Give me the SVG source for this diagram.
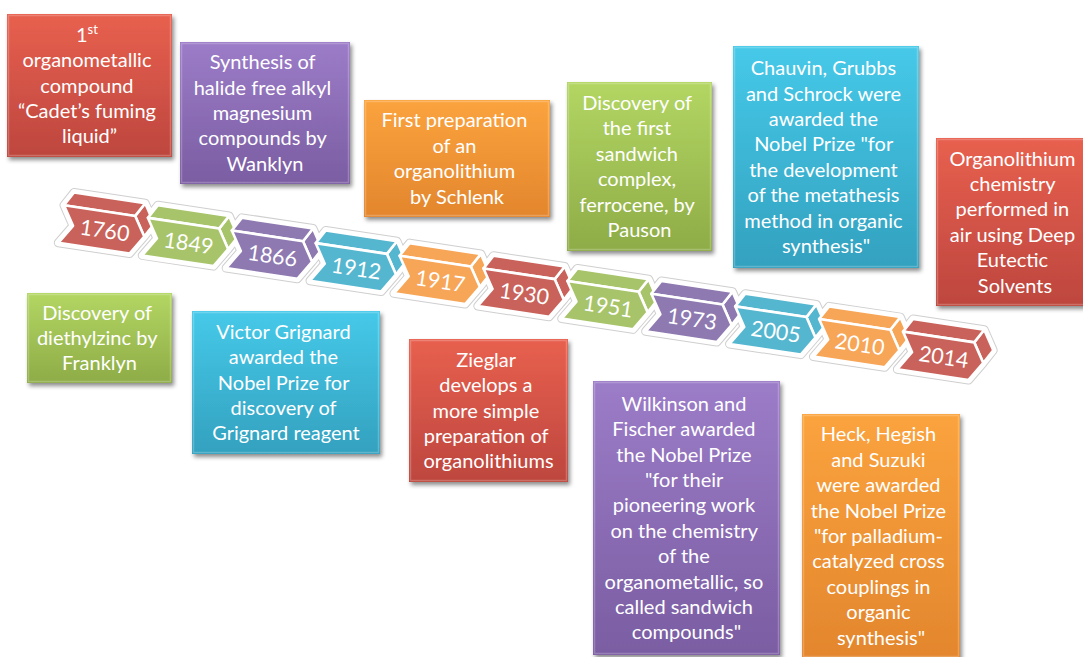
<svg xmlns="http://www.w3.org/2000/svg" width="1083" height="657" viewBox="0 0 1083 657">
  <defs>
    <linearGradient id="gRed" x1="0" y1="0" x2="0" y2="1">
      <stop offset="0" stop-color="#E8604F"/>
      <stop offset="1" stop-color="#BD463E"/>
    </linearGradient>
    <linearGradient id="gPurple" x1="0" y1="0" x2="0" y2="1">
      <stop offset="0" stop-color="#9C7CC8"/>
      <stop offset="1" stop-color="#7A5DA2"/>
    </linearGradient>
    <linearGradient id="gOrange" x1="0" y1="0" x2="0" y2="1">
      <stop offset="0" stop-color="#FBA33E"/>
      <stop offset="1" stop-color="#E3862D"/>
    </linearGradient>
    <linearGradient id="gGreen" x1="0" y1="0" x2="0" y2="1">
      <stop offset="0" stop-color="#B3D663"/>
      <stop offset="1" stop-color="#8EAC47"/>
    </linearGradient>
    <linearGradient id="gCyan" x1="0" y1="0" x2="0" y2="1">
      <stop offset="0" stop-color="#46C9E9"/>
      <stop offset="1" stop-color="#33A1BF"/>
    </linearGradient>
    <filter id="shadow" x="-10%" y="-10%" width="125%" height="125%">
      <feDropShadow dx="2" dy="3" stdDeviation="2.2" flood-color="#000" flood-opacity="0.45"/>
    </filter>
    <!-- one chevron segment of the timeline, drawn in the strip's local frame -->
    <path id="halo" d="M0,0 L8,-14 L80,-14 L92,5 L84,19 L72,38 L0,38 L12,19 Z"/>
    <path id="top" d="M0,0 L72,0 L80,-14 L8,-14 Z"/>
    <path id="facet" d="M72,0 L80,-14 L92,5 L84,19 Z"/>
    <path id="front" d="M0,0 L72,0 L84,19 L72,38 L0,38 L12,19 Z"/>
  </defs>
  <style>
    .box { filter: url(#shadow); }
    .edge { fill: none; stroke: rgba(255,255,255,0.22); stroke-width: 1.5; }
    .txt { font-family: Lato, "Liberation Sans", sans-serif; font-size: 20px; fill: #fff; text-anchor: middle; }
    .yr { font-family: Lato, "Liberation Sans", sans-serif; font-size: 21.5px; fill: #fff; text-anchor: middle; }
    .haloOut { fill: #fff; stroke: #cfcfcf; stroke-width: 9; stroke-linejoin: round; }
    .haloIn { fill: #fff; stroke: #fff; stroke-width: 7; stroke-linejoin: round; }
    .face { stroke: #fff; stroke-width: 2.6; stroke-linejoin: round; }
    .cRed { fill: #C9625A; }
    .cGreen { fill: #A7C46A; }
    .cPurple { fill: #8E79B1; }
    .cCyan { fill: #55B6CF; }
    .cOrange { fill: #F7A557; }
  </style>
  <rect width="1083" height="657" fill="#fff"/>

  <!-- timeline strip -->
  <g id="connectors" transform="translate(64,205.2) rotate(8.57)">
    <g id="halo-out">
      <use href="#halo" class="haloOut" x="0"/>
      <use href="#halo" class="haloOut" x="84.85"/>
      <use href="#halo" class="haloOut" x="169.7"/>
      <use href="#halo" class="haloOut" x="254.55"/>
      <use href="#halo" class="haloOut" x="339.4"/>
      <use href="#halo" class="haloOut" x="424.25"/>
      <use href="#halo" class="haloOut" x="509.1"/>
      <use href="#halo" class="haloOut" x="593.95"/>
      <use href="#halo" class="haloOut" x="678.8"/>
      <use href="#halo" class="haloOut" x="763.65"/>
      <use href="#halo" class="haloOut" x="848.5"/>
    </g>
    <g id="halo-in">
      <use href="#halo" class="haloIn" x="0"/>
      <use href="#halo" class="haloIn" x="84.85"/>
      <use href="#halo" class="haloIn" x="169.7"/>
      <use href="#halo" class="haloIn" x="254.55"/>
      <use href="#halo" class="haloIn" x="339.4"/>
      <use href="#halo" class="haloIn" x="424.25"/>
      <use href="#halo" class="haloIn" x="509.1"/>
      <use href="#halo" class="haloIn" x="593.95"/>
      <use href="#halo" class="haloIn" x="678.8"/>
      <use href="#halo" class="haloIn" x="763.65"/>
      <use href="#halo" class="haloIn" x="848.5"/>
    </g>
    <g id="y1760" class="cRed">
      <use href="#facet" class="face"/><use href="#top" class="face"/><use href="#front" class="face"/>
      <text class="yr" x="44" y="26.5">1760</text>
    </g>
    <g id="y1849" class="cGreen" transform="translate(84.85,0)">
      <use href="#facet" class="face"/><use href="#top" class="face"/><use href="#front" class="face"/>
      <text class="yr" x="44" y="26.5">1849</text>
    </g>
    <g id="y1866" class="cPurple" transform="translate(169.7,0)">
      <use href="#facet" class="face"/><use href="#top" class="face"/><use href="#front" class="face"/>
      <text class="yr" x="44" y="26.5">1866</text>
    </g>
    <g id="y1912" class="cCyan" transform="translate(254.55,0)">
      <use href="#facet" class="face"/><use href="#top" class="face"/><use href="#front" class="face"/>
      <text class="yr" x="44" y="26.5">1912</text>
    </g>
    <g id="y1917" class="cOrange" transform="translate(339.4,0)">
      <use href="#facet" class="face"/><use href="#top" class="face"/><use href="#front" class="face"/>
      <text class="yr" x="44" y="26.5">1917</text>
    </g>
    <g id="y1930" class="cRed" transform="translate(424.25,0)">
      <use href="#facet" class="face"/><use href="#top" class="face"/><use href="#front" class="face"/>
      <text class="yr" x="44" y="26.5">1930</text>
    </g>
    <g id="y1951" class="cGreen" transform="translate(509.1,0)">
      <use href="#facet" class="face"/><use href="#top" class="face"/><use href="#front" class="face"/>
      <text class="yr" x="44" y="26.5">1951</text>
    </g>
    <g id="y1973" class="cPurple" transform="translate(593.95,0)">
      <use href="#facet" class="face"/><use href="#top" class="face"/><use href="#front" class="face"/>
      <text class="yr" x="44" y="26.5">1973</text>
    </g>
    <g id="y2005" class="cCyan" transform="translate(678.8,0)">
      <use href="#facet" class="face"/><use href="#top" class="face"/><use href="#front" class="face"/>
      <text class="yr" x="44" y="26.5">2005</text>
    </g>
    <g id="y2010" class="cOrange" transform="translate(763.65,0)">
      <use href="#facet" class="face"/><use href="#top" class="face"/><use href="#front" class="face"/>
      <text class="yr" x="44" y="26.5">2010</text>
    </g>
    <g id="y2014" class="cRed" transform="translate(848.5,0)">
      <use href="#facet" class="face"/><use href="#top" class="face"/><use href="#front" class="face"/>
      <text class="yr" x="44" y="26.5">2014</text>
    </g>
  </g>

  <!-- event boxes -->
  <g id="ev1760">
    <rect class="box" x="7" y="14" width="165" height="143" fill="url(#gRed)"/>
    <rect class="edge" x="8.5" y="15.5" width="162" height="140"/>
    <text class="txt">
      <tspan x="89.5" y="41.7">1<tspan font-size="13" dy="-8">st</tspan></tspan>
      <tspan x="89.5" y="67.1">organometallic</tspan>
      <tspan x="89.5" y="92.5">compound</tspan>
      <tspan x="89.5" y="117.9">“Cadet’s fuming</tspan>
      <tspan x="89.5" y="143.3">liquid”</tspan>
    </text>
  </g>

  <g id="ev1866">
    <rect class="box" x="180" y="42" width="170" height="142" fill="url(#gPurple)"/>
    <rect class="edge" x="181.5" y="43.5" width="167" height="139"/>
    <text class="txt">
      <tspan x="265" y="69.2">Synthesis of</tspan>
      <tspan x="265" y="94.6">halide free alkyl</tspan>
      <tspan x="265" y="120">magnesium</tspan>
      <tspan x="265" y="145.4">compounds by</tspan>
      <tspan x="265" y="170.8">Wanklyn</tspan>
    </text>
  </g>

  <g id="ev1917">
    <rect class="box" x="364" y="100" width="186" height="117" fill="url(#gOrange)"/>
    <rect class="edge" x="365.5" y="101.5" width="183" height="114"/>
    <text class="txt">
      <tspan x="457" y="127.4">First preparation</tspan>
      <tspan x="457" y="152.8">of an</tspan>
      <tspan x="457" y="178.2">organolithium</tspan>
      <tspan x="457" y="203.6">by Schlenk</tspan>
    </text>
  </g>

  <g id="ev1951">
    <rect class="box" x="567" y="82" width="145" height="169" fill="url(#gGreen)"/>
    <rect class="edge" x="568.5" y="83.5" width="142" height="166"/>
    <text class="txt">
      <tspan x="639.5" y="110">Discovery of</tspan>
      <tspan x="639.5" y="135.4">the first</tspan>
      <tspan x="639.5" y="160.8">sandwich</tspan>
      <tspan x="639.5" y="186.2">complex,</tspan>
      <tspan x="639.5" y="211.6">ferrocene, by</tspan>
      <tspan x="639.5" y="237">Pauson</tspan>
    </text>
  </g>

  <g id="ev2005">
    <rect class="box" x="733" y="46" width="186" height="222" fill="url(#gCyan)"/>
    <rect class="edge" x="734.5" y="47.5" width="183" height="219"/>
    <text class="txt">
      <tspan x="826" y="75.1">Chauvin, Grubbs</tspan>
      <tspan x="826" y="100.5">and Schrock were</tspan>
      <tspan x="826" y="125.9">awarded the</tspan>
      <tspan x="826" y="151.3">Nobel Prize "for</tspan>
      <tspan x="826" y="176.7">the development</tspan>
      <tspan x="826" y="202.1">of the metathesis</tspan>
      <tspan x="826" y="227.5">method in organic</tspan>
      <tspan x="826" y="252.9">synthesis"</tspan>
    </text>
  </g>

  <g id="ev2014">
    <rect class="box" x="936" y="138" width="158" height="168" fill="url(#gRed)"/>
    <rect class="edge" x="937.5" y="139.5" width="155" height="165"/>
    <text class="txt">
      <tspan x="1015" y="165.5">Organolithium</tspan>
      <tspan x="1015" y="190.9">chemistry</tspan>
      <tspan x="1015" y="216.3">performed in</tspan>
      <tspan x="1015" y="241.7">air using Deep</tspan>
      <tspan x="1015" y="267.1">Eutectic</tspan>
      <tspan x="1015" y="292.5">Solvents</tspan>
    </text>
  </g>

  <g id="ev1849">
    <rect class="box" x="27" y="293" width="145" height="90" fill="url(#gGreen)"/>
    <rect class="edge" x="28.5" y="294.5" width="142" height="87"/>
    <text class="txt">
      <tspan x="99.5" y="319.6">Discovery of</tspan>
      <tspan x="99.5" y="345">diethylzinc by</tspan>
      <tspan x="99.5" y="370.4">Franklyn</tspan>
    </text>
  </g>

  <g id="ev1912">
    <rect class="box" x="192" y="311" width="188" height="143" fill="url(#gCyan)"/>
    <rect class="edge" x="193.5" y="312.5" width="185" height="140"/>
    <text class="txt">
      <tspan x="286" y="338.7">Victor Grignard</tspan>
      <tspan x="286" y="364.1">awarded the</tspan>
      <tspan x="286" y="389.5">Nobel Prize for</tspan>
      <tspan x="286" y="414.9">discovery of</tspan>
      <tspan x="286" y="440.3">Grignard reagent</tspan>
    </text>
  </g>

  <g id="ev1930">
    <rect class="box" x="409" y="339" width="159" height="143" fill="url(#gRed)"/>
    <rect class="edge" x="410.5" y="340.5" width="156" height="140"/>
    <text class="txt">
      <tspan x="488.5" y="366.7">Zieglar</tspan>
      <tspan x="488.5" y="392.1">develops a</tspan>
      <tspan x="488.5" y="417.5">more simple</tspan>
      <tspan x="488.5" y="442.9">preparation of</tspan>
      <tspan x="488.5" y="468.3">organolithiums</tspan>
    </text>
  </g>

  <g id="ev1973">
    <rect class="box" x="593" y="381" width="187" height="274" fill="url(#gPurple)"/>
    <rect class="edge" x="594.5" y="382.5" width="184" height="271"/>
    <text class="txt">
      <tspan x="686.5" y="410.7">Wilkinson and</tspan>
      <tspan x="686.5" y="436.1">Fischer awarded</tspan>
      <tspan x="686.5" y="461.5">the Nobel Prize</tspan>
      <tspan x="686.5" y="486.9">"for their</tspan>
      <tspan x="686.5" y="512.3">pioneering work</tspan>
      <tspan x="686.5" y="537.7">on the chemistry</tspan>
      <tspan x="686.5" y="563.1">of the</tspan>
      <tspan x="686.5" y="588.5">organometallic, so</tspan>
      <tspan x="686.5" y="613.9">called sandwich</tspan>
      <tspan x="686.5" y="639.3">compounds"</tspan>
    </text>
  </g>

  <g id="ev2010">
    <rect class="box" x="802" y="414" width="158" height="244" fill="url(#gOrange)"/>
    <rect class="edge" x="803.5" y="415.5" width="155" height="241"/>
    <text class="txt">
      <tspan x="881" y="441.4">Heck, Hegish</tspan>
      <tspan x="881" y="466.8">and Suzuki</tspan>
      <tspan x="881" y="492.2">were awarded</tspan>
      <tspan x="881" y="517.6">the Nobel Prize</tspan>
      <tspan x="881" y="543">"for palladium-</tspan>
      <tspan x="881" y="568.4">catalyzed cross</tspan>
      <tspan x="881" y="593.8">couplings in</tspan>
      <tspan x="881" y="619.2">organic</tspan>
      <tspan x="881" y="644.6">synthesis"</tspan>
    </text>
  </g>
</svg>
